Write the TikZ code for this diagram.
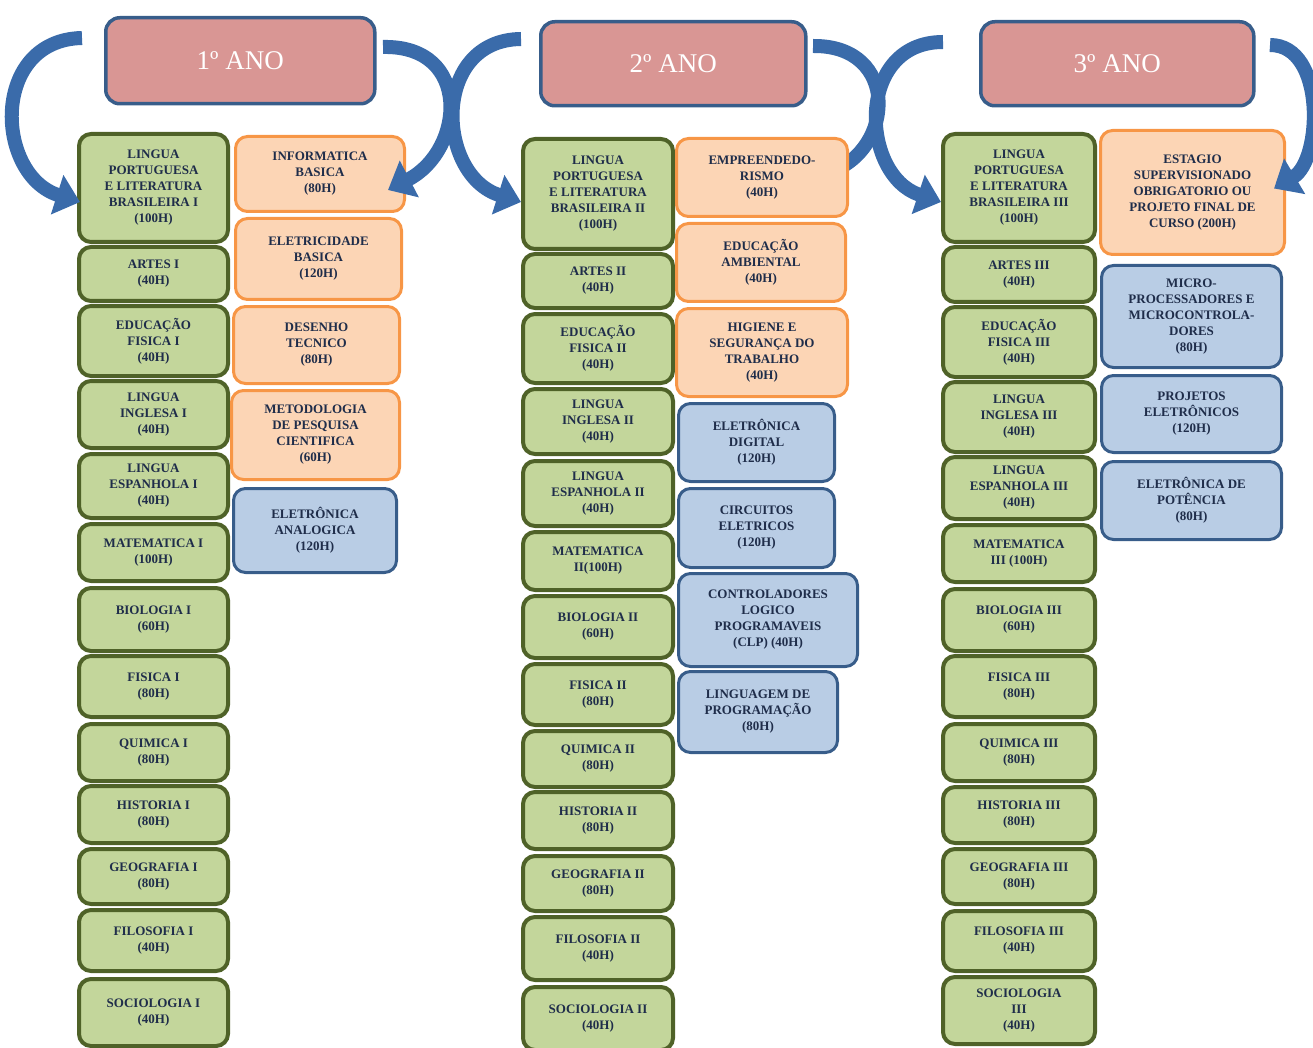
\documentclass[tikz,border=0pt]{standalone}
\usepackage{fontspec}
\setmainfont{Liberation Serif}
\usepackage{tikz}
\usetikzlibrary{arrows.meta,calc}

\definecolor{grnfill}{HTML}{C3D69B}
\definecolor{grnline}{HTML}{4F6228}
\definecolor{orgfill}{HTML}{FCD5B5}
\definecolor{orgline}{HTML}{F79646}
\definecolor{blufill}{HTML}{B9CDE5}
\definecolor{bluline}{HTML}{385D8A}
\definecolor{anofill}{HTML}{D99694}
\definecolor{txtblue}{HTML}{1F2D4A}
\definecolor{arrblue}{HTML}{3A6BAA}

\tikzset{
  span/.style args={#1/#2/#3/#4}{at={(#1+2,#2+2)}, anchor=north west,
    minimum width={(#3-#1-4)*1pt}, minimum height={(#4-#2-4)*1pt}},
  subj/.style={rounded corners=12pt, align=center, inner sep=1pt, text=txtblue,
    font=\fontsize{13}{16}\selectfont\bfseries},
  grn/.style={subj, draw=grnline, fill=grnfill, line width=4pt},
  org/.style={subj, draw=orgline, fill=orgfill, line width=3pt},
  blu/.style={subj, draw=bluline, fill=blufill, line width=3pt},
  ano/.style={rounded corners=14pt, draw=bluline, fill=anofill, line width=3.5pt,
    text=white, font=\fontsize{27}{30}\selectfont},
  curvline/.style={draw=arrblue, line width=14pt},
  curv/.style={curvline, -{Triangle[width=40pt,length=24pt]}},
}

\begin{document}
\begin{tikzpicture}[x=1pt, y=-1pt]
    \useasboundingbox (0,0) rectangle (1313,1048);

    % tails of the curved arrows
    \coordinate (t1) at (82,38);
    \coordinate (t2) at (383,47);
    \coordinate (t3) at (521,39);
    \coordinate (t4) at (813,46);
    \coordinate (t5) at (943,42);
    \coordinate (t6) at (1270,45);

    % this one runs in behind the 2nd year orange box
    \draw[curvline] (t4) .. controls (900,45) and (895,150) .. (830,172);

    % 1st year
    \node[ano, span=102/14/375/104] (ano1) {1º ANO};
    \node[grn, span=75/130/228/242] (pt1) {LINGUA\\PORTUGUESA\\E LITERATURA\\BRASILEIRA I\\(100H)};
    \node[grn, span=75/243/228/301] (ar1) {ARTES I\\(40H)};
    \node[grn, span=75/302/228/376] (ef1) {EDUCAÇÃO\\FISICA I\\(40H)};
    \node[grn, span=75/377/228/448] (li1) {LINGUA\\INGLESA I\\(40H)};
    \node[grn, span=75/450/228/518] (le1) {LINGUA\\ESPANHOLA I\\(40H)};
    \node[grn, span=75/520/228/581] (ma1) {MATEMATICA I\\(100H)};
    \node[grn, span=75/584/228/651] (bi1) {BIOLOGIA I\\(60H)};
    \node[grn, span=75/652/228/717] (fi1) {FISICA I\\(80H)};
    \node[grn, span=75/720/228/781] (qu1) {QUIMICA I\\(80H)};
    \node[grn, span=75/782/228/843] (hi1) {HISTORIA I\\(80H)};
    \node[grn, span=75/845/228/904] (ge1) {GEOGRAFIA I\\(80H)};
    \node[grn, span=75/906/228/971] (fl1) {FILOSOFIA I\\(40H)};
    \node[grn, span=75/975/228/1046] (so1) {SOCIOLOGIA I\\(40H)};
    \node[org, span=232/133/405/212] (inf1) {INFORMATICA\\BASICA\\(80H)};
    \node[org, span=232/215/402/300] (ele1) {ELETRICIDADE\\BASICA\\(120H)};
    \node[org, span=230/303/400/384] (des1) {DESENHO\\TECNICO\\(80H)};
    \node[org, span=228/387/400/480] (met1) {METODOLOGIA\\DE PESQUISA\\CIENTIFICA\\(60H)};
    \node[blu, span=230/485/397/573] (ean1) {ELETRÔNICA\\ANALOGICA\\(120H)};

    % 2nd year
    \node[ano, span=537/18/806/106] (ano2) {2º ANO};
    \node[grn, span=519/135/673/249] (pt2) {LINGUA\\PORTUGUESA\\E LITERATURA\\BRASILEIRA II\\(100H)};
    \node[grn, span=519/250/673/308] (ar2) {ARTES II\\(40H)};
    \node[grn, span=519/310/673/383] (ef2) {EDUCAÇÃO\\FISICA II\\(40H)};
    \node[grn, span=519/385/673/454] (li2) {LINGUA\\INGLESA II\\(40H)};
    \node[grn, span=519/457/673/526] (le2) {LINGUA\\ESPANHOLA II\\(40H)};
    \node[grn, span=519/528/673/590] (ma2) {MATEMATICA\\II(100H)};
    \node[grn, span=519/592/673/658] (bi2) {BIOLOGIA II\\(60H)};
    \node[grn, span=519/660/673/725] (fi2) {FISICA II\\(80H)};
    \node[grn, span=519/727/673/787] (qu2) {QUIMICA II\\(80H)};
    \node[grn, span=519/788/673/849] (hi2) {HISTORIA II\\(80H)};
    \node[grn, span=519/852/673/911] (ge2) {GEOGRAFIA II\\(80H)};
    \node[grn, span=519/913/673/980] (fl2) {FILOSOFIA II\\(40H)};
    \node[grn, span=519/983/673/1050] (so2) {SOCIOLOGIA II\\(40H)};
    \node[org, span=673/135/848/217] (emp2) {EMPREENDEDO-\\RISMO\\(40H)};
    \node[org, span=673/220/846/302] (amb2) {EDUCAÇÃO\\AMBIENTAL\\(40H)};
    \node[org, span=673/305/848/397] (hig2) {HIGIENE E\\SEGURANÇA DO\\TRABALHO\\(40H)};
    \node[blu, span=675/400/835/482] (dig2) {ELETRÔNICA\\DIGITAL\\(120H)};
    \node[blu, span=675/485/835/568] (cir2) {CIRCUITOS\\ELETRICOS\\(120H)};
    \node[blu, span=675/570/858/667] (clp2) {CONTROLADORES\\LOGICO\\PROGRAMAVEIS\\(CLP) (40H)};
    \node[blu, span=675/668/838/753] (lin2) {LINGUAGEM DE\\PROGRAMAÇÃO\\(80H)};

    % 3rd year
    \node[ano, span=977/18/1254/106] (ano3) {3º ANO};
    \node[grn, span=939/130/1095/242] (pt3) {LINGUA\\PORTUGUESA\\E LITERATURA\\BRASILEIRA III\\(100H)};
    \node[grn, span=939/243/1095/302] (ar3) {ARTES III\\(40H)};
    \node[grn, span=939/303/1095/377] (ef3) {EDUCAÇÃO\\FISICA III\\(40H)};
    \node[grn, span=939/378/1095/452] (li3) {LINGUA\\INGLESA III\\(40H)};
    \node[grn, span=939/453/1095/519] (le3) {LINGUA\\ESPANHOLA III\\(40H)};
    \node[grn, span=939/521/1095/582] (ma3) {MATEMATICA\\III (100H)};
    \node[grn, span=939/585/1095/651] (bi3) {BIOLOGIA III\\(60H)};
    \node[grn, span=939/652/1095/717] (fi3) {FISICA III\\(80H)};
    \node[grn, span=939/720/1095/781] (qu3) {QUIMICA III\\(80H)};
    \node[grn, span=939/783/1095/843] (hi3) {HISTORIA III\\(80H)};
    \node[grn, span=939/845/1095/904] (ge3) {GEOGRAFIA III\\(80H)};
    \node[grn, span=939/907/1095/971] (fl3) {FILOSOFIA III\\(40H)};
    \node[grn, span=939/973/1095/1044] (so3) {SOCIOLOGIA\\III\\(40H)};
    \node[org, span=1097/127/1285/255] (est3) {ESTAGIO\\SUPERVISIONADO\\OBRIGATORIO OU\\PROJETO FINAL DE\\CURSO (200H)};
    \node[blu, span=1098/262/1282/368] (mic3) {MICRO-\\PROCESSADORES E\\MICROCONTROLA-\\DORES\\(80H)};
    \node[blu, span=1098/372/1282/453] (pro3) {PROJETOS\\ELETRÔNICOS\\(120H)};
    \node[blu, span=1098/458/1282/540] (pot3) {ELETRÔNICA DE\\POTÊNCIA\\(80H)};

    % curved arrows on top
    \draw[curv] (t1) .. controls (-10,40) and (-5,175) .. ($(pt1.west)+(3,14)$);
    \draw[curv] (t2) .. controls (472,45) and (465,150) .. ($(inf1.east)+(-18,16)$);
    \draw[curv] (t3) .. controls (431,40) and (436,175) .. ($(pt2.west)+(0,8)$);
    \draw[curv] (t5) .. controls (855,42) and (860,175) .. ($(pt3.west)+(0,14)$);
    \draw[curv] (t6) .. controls (1326,45) and (1322,160) .. ($(est3.east)+(-12,-4)$);

\end{tikzpicture}
\end{document}
